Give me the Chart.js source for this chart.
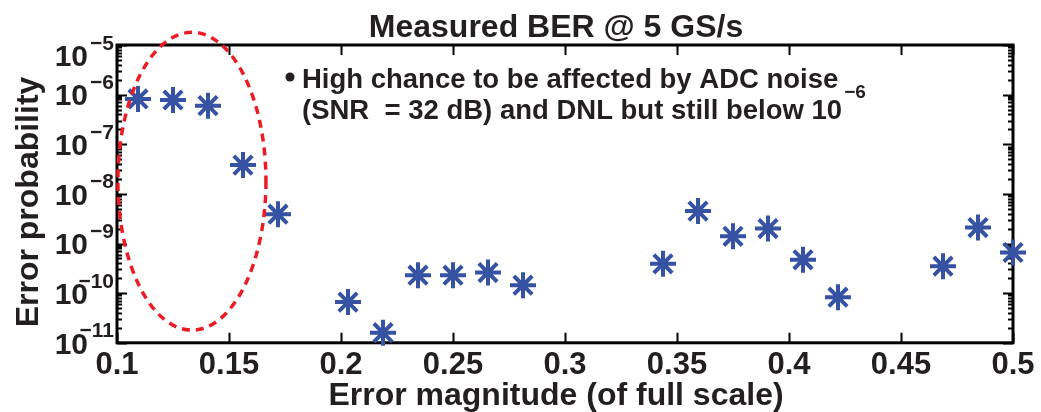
<!DOCTYPE html>
<html><head><meta charset="utf-8">
<script src="https://cdn.jsdelivr.net/npm/chart.js@4.4.0/dist/chart.umd.min.js"></script>
<style>html,body{margin:0;padding:0;background:#fff}#wrap{width:1041px;height:412px;position:relative}</style>
</head><body><div id="wrap"><canvas id="c" width="1041" height="412"></canvas></div>
<script>
// ---- data ----
const titleText = 'Measured BER @ 5 GS/s';
const xAxisTitle = 'Error magnitude (of full scale)';
const yAxisTitle = 'Error probability';
const xTickValues = [0.1, 0.15, 0.2, 0.25, 0.3, 0.35, 0.4, 0.45, 0.5];
const yTickExponents = [-5, -6, -7, -8, -9, -10, -11];
const errorMagnitude = [0.109375, 0.125, 0.140625, 0.15625, 0.171875, 0.203125, 0.21875, 0.234375, 0.25, 0.265625, 0.28125, 0.34375, 0.359375, 0.375, 0.390625, 0.40625, 0.421875, 0.46875, 0.484375, 0.5];
const errorProbability = [8.2e-7, 7.8e-7, 6.0e-7, 3.8e-8, 3.9e-9, 6.6e-11, 1.6e-11, 2.3e-10, 2.3e-10, 2.6e-10, 1.45e-10, 3.9e-10, 4.5e-9, 1.4e-9, 2.0e-9, 4.7e-10, 8.3e-11, 3.5e-10, 2.1e-9, 6.6e-10];
const noteLine1 = 'High chance to be affected by ADC noise';
const noteLine2 = '(SNR  = 32 dB) and DNL but still below 10';
const noteLine2Exp = '\u22126';
const highlightXRange = [0.1004, 0.1665];
const highlightYRange = [1.8e-11, 1.8e-5];

const FONT = "'Liberation Sans', Arial, Helvetica, sans-serif";
const TXT = '#231f20';

const framePlugin = {
  id: 'frame',
  beforeDatasetsDraw(chart) {
    const {ctx, chartArea: a, scales: {x, y}} = chart;
    ctx.save();
    ctx.strokeStyle = '#000';
    ctx.lineWidth = 2;
    ctx.beginPath();
    xTickValues.forEach(v => {
      const px = Math.round(x.getPixelForValue(v)) + 0.5;
      ctx.moveTo(px, a.bottom); ctx.lineTo(px, a.bottom - 10);
      ctx.moveTo(px, a.top); ctx.lineTo(px, a.top + 10);
    });
    const emin = Math.min(...yTickExponents), emax = Math.max(...yTickExponents);
    for (let e = emin; e <= emax; e++) {
      for (let m = 1; m <= 9; m++) {
        if (e === emax && m > 1) break;
        const py = Math.round(y.getPixelForValue(m * Math.pow(10, e))) + 0.5;
        const len = m === 1 ? 10 : 5;
        ctx.moveTo(a.left, py); ctx.lineTo(a.left + len, py);
        ctx.moveTo(a.right, py); ctx.lineTo(a.right - len, py);
      }
    }
    ctx.stroke();
    ctx.lineWidth = 3;
    ctx.strokeRect(a.left, a.top, a.right - a.left, a.bottom - a.top);
    ctx.restore();
  },
  afterDatasetsDraw(chart) {
    const {ctx, scales: {x, y}} = chart;
    const x0 = x.getPixelForValue(highlightXRange[0]), x1 = x.getPixelForValue(highlightXRange[1]);
    const y0 = y.getPixelForValue(highlightYRange[1]), y1 = y.getPixelForValue(highlightYRange[0]);
    ctx.save();
    ctx.strokeStyle = '#ec1c24';
    ctx.lineWidth = 3.5;
    ctx.setLineDash([8, 6]);
    ctx.beginPath();
    ctx.ellipse((x0 + x1) / 2, (y0 + y1) / 2, (x1 - x0) / 2, (y1 - y0) / 2, 0, 0, Math.PI * 2);
    ctx.stroke();
    ctx.restore();
  },
  afterDraw(chart) {
    const {ctx, chartArea: a, scales: {y}} = chart;
    ctx.save();
    ctx.fillStyle = TXT;
    // title
    ctx.font = 'bold 32px ' + FONT;
    ctx.textAlign = 'center';
    ctx.textBaseline = 'alphabetic';
    ctx.fillText(titleText, 556, 37);
    // x title
    ctx.fillText(xAxisTitle, 556, 405);
    // y title
    ctx.save();
    ctx.translate(38, 202);
    ctx.rotate(-Math.PI / 2);
    ctx.fillText(yAxisTitle, 0, 0);
    ctx.restore();
    // y tick labels
    yTickExponents.forEach(e => {
      let cy = y.getPixelForValue(Math.pow(10, e));
      cy = Math.max(cy, a.top + 10);
      ctx.textAlign = 'right';
      ctx.font = 'bold 30px ' + FONT;
      ctx.fillText('10', 88, cy + 10.7);
      ctx.font = 'bold 21px ' + FONT;
      ctx.fillText('\u2212' + Math.abs(e), 114, cy - 5.5);
    });
    // annotation
    ctx.textAlign = 'left';
    ctx.beginPath();
    ctx.arc(290, 77, 4.5, 0, Math.PI * 2);
    ctx.fill();
    ctx.font = 'bold 27.5px ' + FONT;
    ctx.fillText(noteLine1, 302, 88);
    ctx.fillText(noteLine2, 302, 119);
    const w = ctx.measureText(noteLine2).width;
    ctx.font = 'bold 19px ' + FONT;
    ctx.fillText(noteLine2Exp, 302 + w + 2, 98);
    ctx.restore();
  }
};

new Chart(document.getElementById('c'), {
  type: 'scatter',
  data: {
    datasets: [{
      data: errorMagnitude.map((v, i) => ({x: v, y: errorProbability[i]})),
      pointStyle: 'star',
      pointRadius: 13,
      pointHoverRadius: 13,
      pointBorderWidth: 4,
      pointBorderColor: '#3552a3',
      pointBackgroundColor: '#3552a3',
      clip: false
    }]
  },
  options: {
    responsive: false,
    animation: false,
    devicePixelRatio: 1,
    events: [],
    layout: {padding: {left: 117, right: 28, top: 45, bottom: 24}},
    plugins: {legend: {display: false}, tooltip: {enabled: false}, title: {display: false}},
    scales: {
      x: {
        type: 'linear', min: 0.1, max: 0.5,
        afterBuildTicks: s => { s.ticks = xTickValues.map(v => ({value: v})); },
        ticks: {
          font: {family: FONT, size: 31, weight: 'bold'}, color: TXT, padding: 4,
          maxRotation: 0, autoSkip: false,
          callback: v => String(+(+v).toFixed(2))
        },
        grid: {display: false, drawTicks: false},
        border: {display: false}
      },
      y: {type: 'logarithmic', min: 1e-11, max: 1e-5, display: false}
    }
  },
  plugins: [framePlugin]
});
</script>
</body></html>
